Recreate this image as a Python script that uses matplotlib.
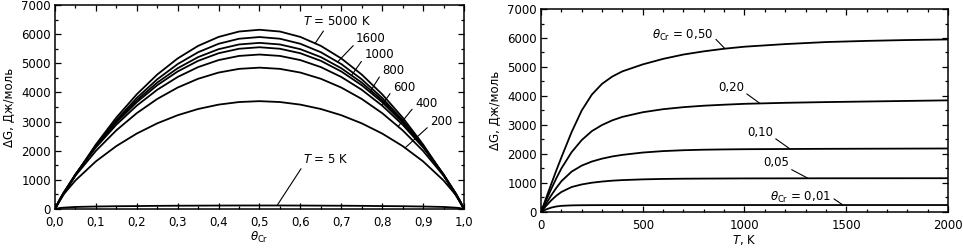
import numpy as np
import matplotlib
matplotlib.use("Agg")
import matplotlib.pyplot as plt
from matplotlib.ticker import MultipleLocator, FuncFormatter

# ---------------- data: left panel (dG vs theta_Cr at several T) ----------------
theta = [0.0, 0.01, 0.02, 0.05, 0.10, 0.15, 0.20, 0.25, 0.30, 0.35, 0.40, 0.45, 0.50,
         0.55, 0.60, 0.65, 0.70, 0.75, 0.80, 0.85, 0.90, 0.95, 0.98, 0.99, 1.0]

g_5000 = [0, 243, 482, 1169, 2214, 3137, 3936, 4613, 5166, 5597, 5904, 6089, 6150,
          6089, 5904, 5597, 5166, 4613, 3936, 3137, 2214, 1169, 482, 243, 0]
g_1600 = [0, 246, 487, 1159, 2168, 3050, 3810, 4450, 4973, 5379, 5669, 5842, 5900,
          5842, 5669, 5379, 4973, 4450, 3810, 3050, 2168, 1159, 487, 246, 0]
g_1000 = [0, 262, 507, 1177, 2160, 3007, 3730, 4337, 4830, 5212, 5483, 5646, 5700,
          5646, 5483, 5212, 4830, 4337, 3730, 3007, 2160, 1177, 507, 262, 0]
g_800 = [0, 272, 520, 1184, 2146, 2967, 3665, 4247, 4719, 5084, 5344, 5498, 5550,
         5498, 5344, 5084, 4719, 4247, 3665, 2967, 2146, 1184, 520, 272, 0]
g_600 = [0, 285, 536, 1189, 2113, 2892, 3547, 4091, 4530, 4869, 5109, 5252, 5300,
         5252, 5109, 4869, 4530, 4091, 3547, 2892, 2113, 1189, 536, 285, 0]
g_400 = [0, 285, 530, 1143, 1994, 2700, 3289, 3776, 4167, 4468, 4681, 4808, 4850,
         4808, 4681, 4468, 4167, 3776, 3289, 2700, 1994, 1143, 530, 285, 0]
g_200 = [0, 275, 483, 980, 1634, 2159, 2589, 2939, 3218, 3431, 3581, 3670, 3700,
         3670, 3581, 3431, 3218, 2939, 2589, 2159, 1634, 980, 483, 275, 0]
g_5 = [0, 30, 45, 70, 85, 95, 100, 108, 112, 115, 118, 120, 120,
       120, 118, 115, 112, 108, 100, 95, 85, 70, 45, 30, 0]

left_curves = [g_5000, g_1600, g_1000, g_800, g_600, g_400, g_200, g_5]
left_labels = ["$T$ = 5000 K", "1600", "1000", "800", "600", "400", "200", "$T$ = 5 K"]

# ---------------- data: right panel (dG vs T at several theta_Cr) ----------------
temps = [0, 25, 50, 75, 100, 150, 200, 250, 300, 350, 400, 500, 600, 700, 800,
         900, 1000, 1200, 1400, 1600, 1800, 2000]
r_050 = [0, 480, 960, 1430, 1880, 2750, 3500, 4050, 4420, 4670, 4850, 5090, 5280,
         5430, 5540, 5630, 5700, 5790, 5860, 5900, 5930, 5950]
r_020 = [0, 400, 790, 1160, 1500, 2060, 2480, 2790, 3000, 3160, 3280, 3440, 3545,
         3615, 3665, 3700, 3730, 3765, 3790, 3810, 3830, 3850]
r_010 = [0, 290, 570, 830, 1060, 1390, 1600, 1740, 1840, 1915, 1970, 2050, 2100,
         2130, 2148, 2158, 2165, 2172, 2178, 2182, 2186, 2190]
r_005 = [0, 210, 400, 560, 690, 860, 950, 1010, 1050, 1080, 1100, 1125, 1140,
         1148, 1152, 1155, 1158, 1160, 1162, 1163, 1164, 1165]
r_001 = [0, 90, 150, 190, 212, 228, 234, 236, 237, 238, 238, 239, 239, 240,
         240, 240, 240, 240, 240, 240, 240, 240]

right_curves = [r_050, r_020, r_010, r_005, r_001]
right_labels = [r"$\theta_{\rm Cr}$ = 0,50", "0,20", "0,10", "0,05", r"$\theta_{\rm Cr}$ = 0,01"]

# ---------------- styling ----------------
plt.rcParams['font.family'] = ['DejaVu Sans']
plt.rcParams['mathtext.fontset'] = 'dejavusans'
TICK_FS = 8.5
LAB_FS = 8.5
ANN_FS = 8.5
LW = 1.3

fig = plt.figure(figsize=(9.63, 2.48), dpi=100)
ax1 = fig.add_axes([0.0571, 0.1573, 0.4247, 0.8226])
ax2 = fig.add_axes([0.5618, 0.1452, 0.4226, 0.8185])


def style(ax):
    for s in ax.spines.values():
        s.set_linewidth(1.1)
    ax.tick_params(which='both', direction='in', top=True, right=True,
                   labelsize=TICK_FS, width=0.9)
    ax.tick_params(which='major', length=4)
    ax.tick_params(which='minor', length=2)
    ax.tick_params(axis='x', which='major', pad=5)
    ax.tick_params(axis='y', which='major', pad=3)


# left panel
for g in left_curves:
    ax1.plot(theta, g, color='black', lw=LW)
ax1.set_xlim(0, 1)
ax1.set_ylim(0, 7000)
ax1.xaxis.set_major_locator(MultipleLocator(0.1))
ax1.xaxis.set_minor_locator(MultipleLocator(0.05))
ax1.yaxis.set_major_locator(MultipleLocator(1000))
ax1.yaxis.set_minor_locator(MultipleLocator(500))
ax1.xaxis.set_major_formatter(FuncFormatter(lambda v, p: f"{v:.1f}".replace('.', ',')))
style(ax1)
ax1.set_xlabel(r"$\theta_{\rm Cr}$", fontsize=LAB_FS, labelpad=1)
ax1.set_ylabel("ΔG, Дж/моль", fontsize=LAB_FS, labelpad=4)

# annotation positions for left panel: (text theta, text value, curve theta, relpos)
left_ann = [
    (0.606, 6424, 0.636, (0.33, 0.0)),
    (0.736, 5838, 0.691, (0.0, 0.2)),
    (0.756, 5286, 0.725, (0.0, 0.3)),
    (0.800, 4769, 0.770, (0.0, 0.3)),
    (0.826, 4182, 0.799, (0.0, 0.3)),
    (0.880, 3631, 0.839, (0.0, 0.3)),
    (0.917, 3010, 0.856, (0.0, 0.2)),
    (0.606, 1700, 0.543, (0.0, 0.0)),
]
for g, lab, (tx, ty, cx, rp) in zip(left_curves, left_labels, left_ann):
    cy = np.interp(cx, theta, g)
    ax1.annotate(lab, xy=(cx, cy), xytext=(tx, ty), fontsize=ANN_FS,
                 ha='left', va='center',
                 arrowprops=dict(arrowstyle='-', lw=0.8, color='black',
                                 shrinkA=0, shrinkB=0, relpos=rp))

# right panel
for r in right_curves:
    ax2.plot(temps, r, color='black', lw=LW)
ax2.set_xlim(0, 2000)
ax2.set_ylim(0, 7000)
ax2.xaxis.set_major_locator(MultipleLocator(500))
ax2.xaxis.set_minor_locator(MultipleLocator(100))
ax2.yaxis.set_major_locator(MultipleLocator(1000))
ax2.yaxis.set_minor_locator(MultipleLocator(500))
style(ax2)
ax2.set_xlabel("$T$, K", fontsize=LAB_FS, labelpad=1)
ax2.set_ylabel("ΔG, Дж/моль", fontsize=LAB_FS, labelpad=4)

right_ann = [
    (545, 6103, 904, (1.0, 0.4)),
    (870, 4276, 1076, (1.0, 0.2)),
    (1012, 2724, 1224, (1.0, 0.2)),
    (1091, 1690, 1312, (1.0, 0.1)),
    (1126, 517, 1484, (1.0, 0.5)),
]
for r, lab, (tx, ty, cx, rp) in zip(right_curves, right_labels, right_ann):
    cy = np.interp(cx, temps, r)
    ax2.annotate(lab, xy=(cx, cy), xytext=(tx, ty), fontsize=ANN_FS,
                 ha='left', va='center',
                 arrowprops=dict(arrowstyle='-', lw=0.8, color='black',
                                 shrinkA=0, shrinkB=0, relpos=rp))

fig.savefig("out.png", dpi=100)
